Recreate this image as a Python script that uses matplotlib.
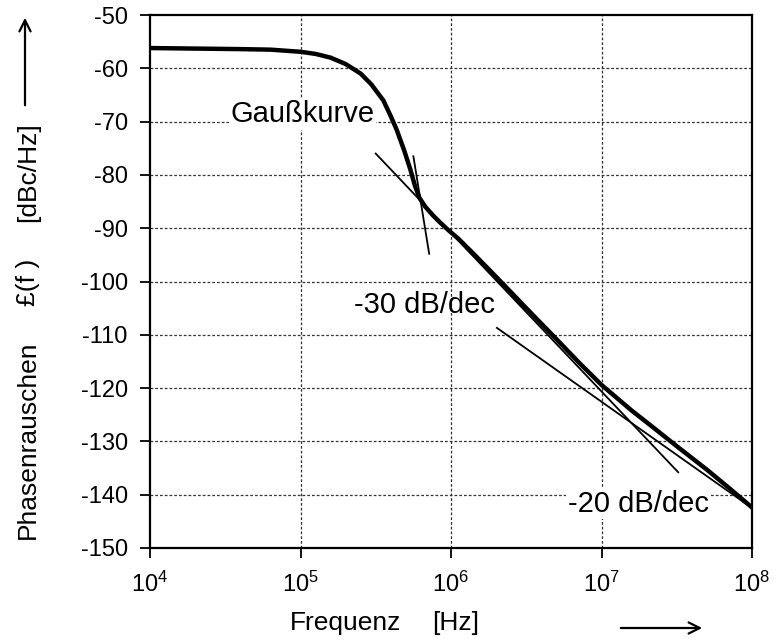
import matplotlib
matplotlib.use("Agg")
import matplotlib.pyplot as plt
from matplotlib.patches import FancyArrowPatch
from matplotlib.ticker import FixedLocator, LogFormatterMathtext

plt.rcParams['font.family'] = ['Liberation Sans', 'DejaVu Sans']
plt.rcParams['mathtext.fontset'] = 'custom'
plt.rcParams['mathtext.rm'] = 'Liberation Sans'
plt.rcParams['mathtext.it'] = 'Liberation Sans'

# Phase noise curve: log10(frequency / Hz) and level in dBc/Hz
curve_decades = [4.00, 4.30, 4.60, 4.80, 5.00, 5.10, 5.20, 5.30, 5.40, 5.47,
                 5.55, 5.60, 5.64, 5.69, 5.73, 5.76, 5.79, 5.83, 5.88, 5.93,
                 5.98, 6.05, 6.15, 6.33, 6.50, 6.70, 6.85, 7.00, 7.20, 7.34,
                 7.50, 7.70, 7.85, 8.00]
curve_dbc = [-56.2, -56.3, -56.4, -56.5, -56.9, -57.3, -58.0, -59.2, -61.0, -63.0,
             -66.0, -69.0, -71.6, -75.5, -79.0, -82.0, -84.3, -86.0, -87.6, -89.0,
             -90.3, -92.0, -94.8, -100.0, -105.0, -110.8, -115.2, -119.4, -124.2, -127.3,
             -130.9, -135.3, -138.8, -142.4]

# Asymptotes (start / end points)
gauss_decades = [5.75, 5.855]
gauss_dbc = [-76.5, -94.8]
slope30_decades = [5.50, 7.51]
slope30_dbc = [-76.0, -135.8]
slope20_decades = [6.305, 8.00]
slope20_dbc = [-108.7, -142.5]

x_ticks = [1e4, 1e5, 1e6, 1e7, 1e8]
y_ticks = list(range(-150, -49, 10))

fs_tick = 17
fs_note = 21
fs_label = 19

W, H = 779, 640
fig = plt.figure(figsize=(W / 100, H / 100), dpi=100)
ax = fig.add_axes([150 / W, 1 - 548 / H, 602 / W, 533 / H])

ax.set_xscale('log')
ax.set_xlim(1e4, 1e8)
ax.set_ylim(-150, -50)

# dotted grid
for yv in y_ticks[1:-1]:
    ax.axhline(yv, color='#333333', lw=0.9, ls=(0, (2.2, 1.6)), zorder=1)
for xv in x_ticks[1:-1]:
    ax.axvline(xv, color='#333333', lw=0.9, ls=(0, (2.2, 1.6)), zorder=1)


def to_hz(decades):
    return [10 ** v for v in decades]


ax.plot(to_hz(curve_decades), curve_dbc, color='black', lw=3.2,
        solid_capstyle='round', solid_joinstyle='round', zorder=4)
ax.plot(to_hz(gauss_decades), gauss_dbc, color='black', lw=1.3, zorder=3)
ax.plot(to_hz(slope30_decades), slope30_dbc, color='black', lw=1.3, zorder=3)
ax.plot(to_hz(slope20_decades), slope20_dbc, color='black', lw=1.3, zorder=3)

box = dict(facecolor='white', edgecolor='none', pad=1.0)
ax.text(10 ** 5.013, -70.1, 'Gaußkurve', fontsize=fs_note, ha='center',
        va='baseline', bbox=box, zorder=2)
ax.text(10 ** 5.824, -105.9, '-30 dB/dec', fontsize=fs_note, ha='center',
        va='baseline', zorder=2)
ax.text(10 ** 7.245, -143.2, '-20 dB/dec', fontsize=fs_note, ha='center',
        va='baseline', bbox=box, zorder=2)

ax.xaxis.set_major_locator(FixedLocator(x_ticks))
ax.xaxis.set_major_formatter(LogFormatterMathtext())
ax.xaxis.set_minor_locator(FixedLocator([]))
ax.set_yticks(y_ticks)
ax.set_yticklabels([str(v) for v in y_ticks])
ax.tick_params(axis='both', direction='out', length=7, width=1.3,
               labelsize=fs_tick, color='black')
ax.tick_params(axis='x', pad=10)
ax.tick_params(axis='y', pad=9)

for sp in ax.spines.values():
    sp.set_linewidth(1.6)

# axis titles
fig.text(290 / W, 1 - 623 / H, 'Frequenz', fontsize=fs_label,
         ha='left', va='center')
fig.text(432 / W, 1 - 623 / H, '[Hz]', fontsize=fs_label,
         ha='left', va='center')
fig.text(28 / W, 1 - 440 / H, 'Phasenrauschen', fontsize=fs_label,
         rotation=90, ha='center', va='center')
fig.text(28 / W, 1 - 282 / H, '£(f )', fontsize=fs_label,
         rotation=90, ha='center', va='center')
fig.text(28 / W, 1 - 172 / H, '[dBc/Hz]', fontsize=fs_label,
         rotation=90, ha='center', va='center')

# direction arrows
fig.patches.append(FancyArrowPatch(
    (618 / W, 1 - 628 / H), (705 / W, 1 - 628 / H),
    transform=fig.transFigure, arrowstyle='->,head_length=8,head_width=4',
    lw=1.6, color='black'))
fig.patches.append(FancyArrowPatch(
    (25 / W, 1 - 108 / H), (25 / W, 1 - 15 / H),
    transform=fig.transFigure, arrowstyle='->,head_length=8,head_width=4',
    lw=1.6, color='black'))

fig.savefig('out.png', dpi=100)
